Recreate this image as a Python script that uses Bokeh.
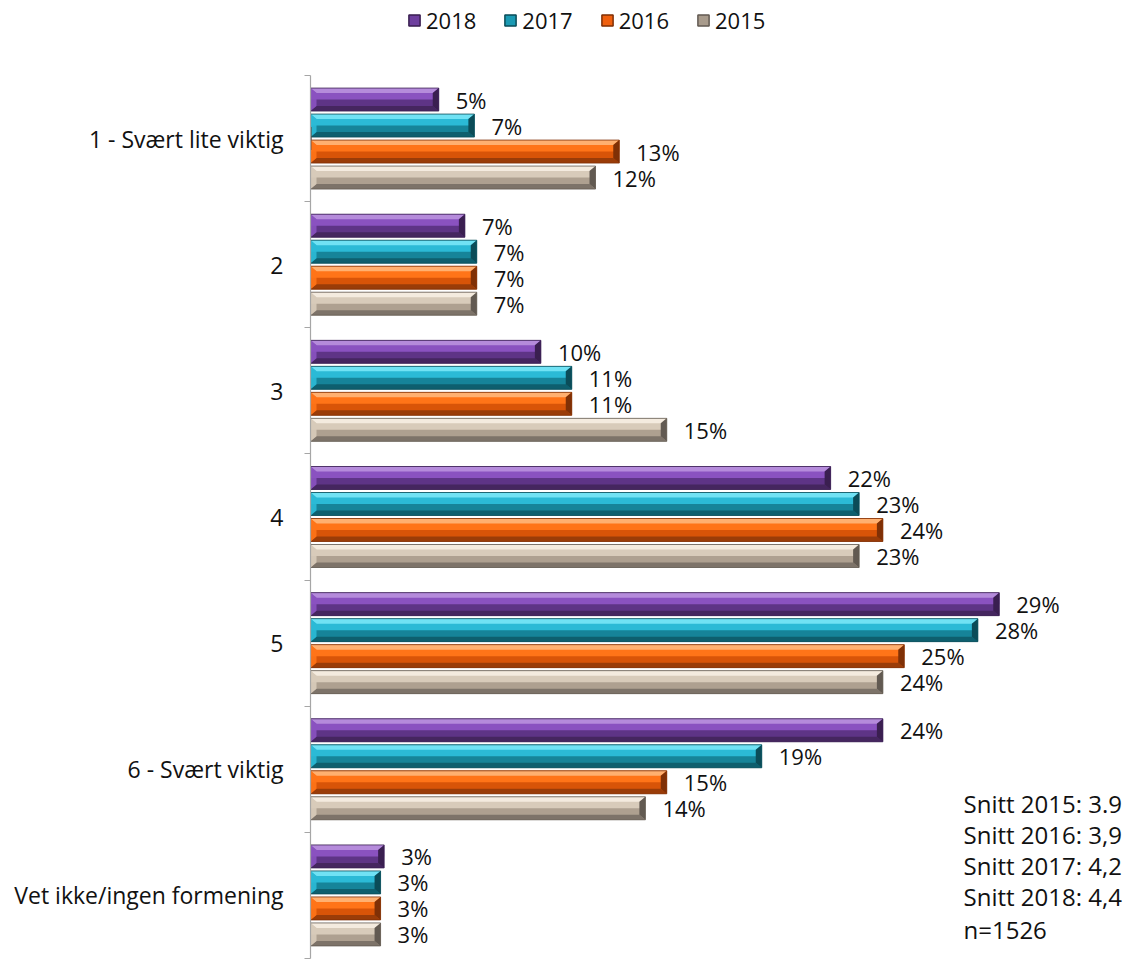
from bokeh.plotting import figure
from bokeh.models import Range1d, FixedTicker, Legend, LegendItem, Label, ColumnDataSource
from bokeh.embed import file_html
from bokeh.resources import INLINE
from bokeh.core.properties import value

categories = ["1 - Svært lite viktig", "2", "3", "4", "5", "6 - Svært viktig", "Vet ikke/ingen formening"]
years = ["2018", "2017", "2016", "2015"]
v2018 = [5.4, 6.5, 9.7, 21.9, 29.0, 24.1, 3.1]
v2017 = [6.9, 7.0, 11.0, 23.1, 28.1, 19.0, 2.95]
v2016 = [13.0, 7.0, 11.0, 24.1, 25.0, 15.0, 2.95]
v2015 = [12.0, 7.0, 15.0, 23.1, 24.1, 14.1, 2.95]
lab2018 = ["5%", "7%", "10%", "22%", "29%", "24%", "3%"]
lab2017 = ["7%", "7%", "11%", "23%", "28%", "19%", "3%"]
lab2016 = ["13%", "7%", "11%", "24%", "25%", "15%", "3%"]
lab2015 = ["12%", "7%", "15%", "23%", "24%", "14%", "3%"]
notes = ["Snitt 2015: 3.9", "Snitt 2016: 3,9", "Snitt 2017: 4,2", "Snitt 2018: 4,4", "n=1526"]

series_vals = [v2018, v2017, v2016, v2015]
series_labs = [lab2018, lab2017, lab2016, lab2015]
# (light bevel, face top, face bottom, dark bevel, end bevel)
palette = [
    ("#B58BDB", "#8A52C0", "#5E3486", "#45265F", "#3A1F50"),
    ("#70E2F4", "#2BBAD6", "#168499", "#0E5F6E", "#0B4C58"),
    ("#FFB070", "#FF7418", "#D85408", "#9A3C08", "#7F3006"),
    ("#F4EBDF", "#D8CBBA", "#AEA090", "#7D7369", "#625A52"),
]
legend_colors = ["#6E3F9E", "#1B9AB3", "#F0600E", "#A89B8C"]

FONT = "Open Sans"
W, H = 1142, 960
ML, MR, MB = 310, 8, 2
TOP = 75                      # page y where the category axis starts
FW = W - ML - MR
FH = H - MB                   # frame spans from the top of the figure
PLOT_H = FH - TOP
PX_PER_PCT = 23.75
ncat = len(categories)
xmax = FW / PX_PER_PCT
px_x = 1.0 / PX_PER_PCT
px_y = ncat / PLOT_H

p = figure(width=W, height=H, output_backend="svg", toolbar_location=None,
           x_range=Range1d(0, xmax), y_range=Range1d(ncat, -TOP * px_y),
           x_axis_location=None, min_border_left=ML, min_border_right=MR,
           min_border_top=0, min_border_bottom=MB)
p.outline_line_color = None
p.grid.visible = False
p.background_fill_color = "white"

bar_h = 23 * px_y
pitch = 26 * px_y
offsets = [(j - 1.5) * pitch for j in range(len(years))]
bx = 6 * px_x
by = 5 * px_y

legend_items = []
for j, (vals, labs, cols) in enumerate(zip(series_vals, series_labs, palette)):
    light, ftop, fbot, dark, endc = cols
    ys = [i + 0.5 + offsets[j] for i in range(ncat)]
    top_x, top_y, bot_x, bot_y, lft_x, lft_y, rgt_x, rgt_y = [], [], [], [], [], [], [], []
    for v, y in zip(vals, ys):
        yt, yb = y - bar_h / 2, y + bar_h / 2
        xi0, xi1 = bx, v - bx
        yti, ybi = yt + by, yb - by
        top_x.append([0, v, xi1, xi0]); top_y.append([yt, yt, yti, yti])
        bot_x.append([0, v, xi1, xi0]); bot_y.append([yb, yb, ybi, ybi])
        lft_x.append([0, xi0, xi0, 0]); lft_y.append([yt, yti, ybi, yb])
        rgt_x.append([v, xi1, xi1, v]); rgt_y.append([yt, yti, ybi, yb])
    src = ColumnDataSource(dict(y=ys, v=vals, lab=labs,
                                yu=[y - bar_h / 4 for y in ys]))
    p.hbar(y="y", left=0, right="v", height=bar_h, source=src,
           fill_color=fbot, line_color=None)
    p.hbar(y="yu", left=0, right="v", height=bar_h / 2, source=src,
           fill_color=ftop, line_color=None)
    p.patches(top_x, top_y, fill_color=light, line_color=None)
    p.patches(bot_x, bot_y, fill_color=dark, line_color=None)
    p.patches(lft_x, lft_y, fill_color=ftop, line_color=None, fill_alpha=0.9)
    p.patches(rgt_x, rgt_y, fill_color=endc, line_color=None)
    p.hbar(y="y", left=0, right="v", height=bar_h, source=src,
           fill_color=None, line_color=endc, line_width=0.8)
    p.text(x="v", y="y", text="lab", source=src, x_offset=17,
           text_font=value(FONT), text_font_size="22px", text_color="#111111",
           text_baseline="middle", text_align="left")
    # swatch renderer for the legend (zero-length bar, invisible in the plot)
    sw = p.hbar(y=[0.5], left=[0], right=[0], height=bar_h,
                fill_color=legend_colors[j], line_color=endc, line_width=1.5)
    legend_items.append(LegendItem(label=years[j], renderers=[sw]))

legend = Legend(items=legend_items, orientation="horizontal", location=(97, FH - 35),
                label_text_font=FONT, label_text_font_size="22px", label_text_color="#111111",
                glyph_width=14, glyph_height=14, label_standoff=5, spacing=27,
                border_line_color=None, background_fill_alpha=0, padding=0, margin=0)
p.add_layout(legend)

ax = p.yaxis[0]
ax.bounds = (0, ncat)
ax.ticker = FixedTicker(ticks=[i + 0.5 for i in range(ncat)], minor_ticks=list(range(ncat + 1)))
ax.major_label_overrides = {i + 0.5: c for i, c in enumerate(categories)}
ax.major_label_text_font = FONT
ax.major_label_text_font_size = "23px"
ax.major_label_text_color = "#111111"
ax.major_label_standoff = 21
ax.major_tick_out = 0
ax.major_tick_in = 0
ax.minor_tick_out = 6
ax.minor_tick_in = 0
ax.minor_tick_line_color = "#A6A6A6"
ax.axis_line_color = "#A6A6A6"
ax.axis_line_width = 1.2

note_x = (963 - ML) / PX_PER_PCT
note_px = [803, 834, 865, 896, 929]
for t, py in zip(notes, note_px):
    p.add_layout(Label(x=note_x, y=(py - TOP) * px_y, text=t, text_font=FONT,
                       text_font_size="24px", text_color="#111111", text_baseline="middle"))

open("out.html", "w").write(file_html(p, INLINE))
